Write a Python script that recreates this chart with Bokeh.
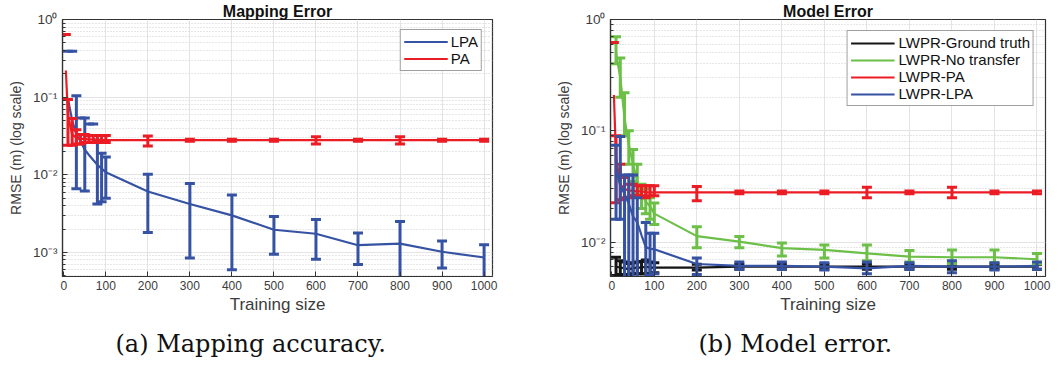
import numpy as np
from bokeh.plotting import figure
from bokeh.layouts import row
from bokeh.models import Range1d, FixedTicker, Legend, LegendItem, Title, ColumnDataSource
from bokeh.embed import file_html
from bokeh.resources import INLINE

nan = float("nan")

# ---------------- data ----------------
x_ticks = [0, 100, 200, 300, 400, 500, 600, 700, 800, 900, 1000]
y_ticks_a = [0.001, 0.01, 0.1, 1.0]
y_ticks_b = [0.01, 0.1, 1.0]
y_tick_labels = {1.0: "10⁰", 0.1: "10⁻¹", 0.01: "10⁻²", 0.001: "10⁻³"}

# (a) Mapping error
lpa_x = [10, 20, 30, 40, 50, 60, 70, 80, 90, 100, 200, 300, 400, 500, 600, 700, 800, 900, 1000]
lpa_mean = [0.095, 0.05, 0.033, 0.027, 0.021, 0.018, 0.0155, 0.0135, 0.012, 0.0108,
            0.0061, 0.0042, 0.0030, 0.00196, 0.00174, 0.00124, 0.0013, 0.00102, 0.00086]
lpa_upper = [0.39, 0.39, 0.104, 0.054, 0.054, 0.045, 0.045, 0.028, 0.019, 0.017,
             0.0102, 0.0077, 0.0055, 0.0029, 0.00265, 0.00178, 0.0025, 0.0014, 0.00126]
lpa_lower = [nan, nan, 0.0066, nan, 0.0062, nan, nan, 0.0042, 0.0045, 0.005,
             0.0018, 0.00085, 0.0006, 0.00095, 0.00082, 0.0007, 0.0004, 0.00063, 0.00045]

pa_x = [5, 10, 20, 30, 40, 50, 60, 70, 80, 90, 100, 200, 300, 400, 500, 600, 700, 800, 900, 1000]
pa_mean = [0.22, 0.058, 0.033, 0.030, 0.029, 0.029, 0.0285, 0.0285, 0.028, 0.028, 0.028,
           0.0280, 0.0279, 0.0279, 0.0279, 0.0279, 0.0279, 0.0279, 0.0279, 0.0279]
pa_upper = [0.64, 0.093, 0.053, 0.038, 0.033, 0.033, 0.032, 0.032, 0.032, 0.032, 0.032,
            0.0315, 0.0287, 0.0287, 0.0287, 0.031, 0.0287, 0.031, 0.0287, 0.0287]
pa_lower = [nan, 0.024, 0.024, 0.025, 0.025, 0.026, 0.026, 0.026, 0.026, 0.026, 0.026,
            0.0235, 0.0271, 0.0271, 0.0271, 0.025, 0.0271, 0.025, 0.0271, 0.0271]

# (b) Model error
gt_x = [10, 20, 30, 40, 50, 60, 70, 80, 90, 100, 200, 300, 400, 500, 600, 700, 800, 900, 1000]
gt_mean = [0.0060, 0.0059, 0.0058, 0.0057, 0.0058, 0.0059, 0.0059, 0.0060, 0.0059, 0.0059,
           0.0059, 0.0060, 0.0060, 0.0060, 0.0060, 0.0060, 0.0060, 0.0060, 0.0060]
gt_upper = [0.0073, 0.0068, 0.0066, 0.0064, 0.0065, 0.0066, 0.0067, 0.0069, 0.0066, 0.0065,
            0.0063, 0.0063, 0.0063, 0.0063, 0.0063, 0.0063, 0.0063, 0.0063, 0.0063]
gt_lower = [0.0050, 0.0051, 0.0051, 0.0051, 0.0052, 0.0052, 0.0052, 0.0052, 0.0052, 0.0053,
            0.0056, 0.0057, 0.0057, 0.0057, 0.0057, 0.0057, 0.0057, 0.0057, 0.0057]

nt_x = [10, 20, 30, 40, 50, 60, 70, 80, 90, 100, 200, 300, 400, 500, 600, 700, 800, 900, 1000]
nt_mean = [0.50, 0.30, 0.13, 0.075, 0.05, 0.035, 0.027, 0.023, 0.021, 0.018,
           0.0113, 0.0101, 0.0088, 0.0085, 0.0079, 0.0074, 0.0073, 0.0073, 0.0070]
nt_upper = [0.70, 0.45, 0.22, 0.10, 0.068, 0.05, 0.033, 0.030, 0.025, 0.0224,
            0.0137, 0.0112, 0.0098, 0.0094, 0.0094, 0.0084, 0.0085, 0.0085, 0.0079]
nt_lower = [0.40, 0.20, 0.09, 0.05, 0.035, 0.027, 0.020, 0.018, 0.016, 0.0144,
            0.0089, 0.0089, 0.0075, 0.0072, 0.0068, 0.0066, 0.0064, 0.0065, 0.0064]

lp_x = [5, 10, 20, 30, 40, 50, 60, 70, 80, 90, 100, 200, 300, 400, 500, 600, 700, 800, 900, 1000]
lp_mean = [0.21, 0.058, 0.033, 0.030, 0.029, 0.029, 0.0285, 0.0285, 0.028, 0.028, 0.028,
           0.0280, 0.0279, 0.0279, 0.0279, 0.0279, 0.0279, 0.0279, 0.0279, 0.0279]
lp_upper = [0.62, 0.09, 0.05, 0.038, 0.033, 0.033, 0.032, 0.032, 0.032, 0.032, 0.032,
            0.0315, 0.0287, 0.0287, 0.0287, 0.031, 0.0287, 0.031, 0.0287, 0.0287]
lp_lower = [nan, 0.0226, 0.024, 0.025, 0.025, 0.026, 0.026, 0.026, 0.025, 0.026, 0.026,
            0.0235, 0.0271, 0.0271, 0.0271, 0.025, 0.0271, 0.025, 0.0271, 0.0271]

ll_x = [10, 20, 30, 40, 50, 60, 70, 80, 90, 100, 200, 300, 400, 500, 600, 700, 800, 900, 1000]
ll_mean = [0.045, 0.032, 0.027, 0.022, 0.017, 0.015, 0.0115, 0.009, 0.0087, 0.0086,
           0.00635, 0.0061, 0.0061, 0.0060, 0.0058, 0.0061, 0.0060, 0.0060, 0.0061]
ll_upper = [0.074, 0.089, 0.040, 0.040, 0.040, 0.025, nan, 0.015, 0.012, 0.012,
            0.0072, 0.0066, 0.0066, 0.0065, 0.0066, 0.0065, 0.0068, 0.0065, 0.0066]
ll_lower = [0.016, 0.016, 0.0048, 0.0045, 0.0048, 0.0048, nan, 0.0048, 0.005, 0.0052,
            0.0051, 0.0057, 0.0057, 0.0056, 0.0052, 0.0057, 0.0053, 0.0056, 0.0057]

BLUE = "#3653a3"
RED = "#ec1c24"
GREEN = "#6cbf47"
BLACK = "#151515"
SANS = "Liberation Sans"
TXT = "#3c3c3c"


def draw_series(p, x, mean, upper, lower, color, cap=10, lw=2.2, bw=3):
    src = ColumnDataSource(dict(x=np.array(x, float), m=np.array(mean, float),
                                u=np.array(upper, float), l=np.array(lower, float)))
    r = p.line("x", "m", source=src, line_color=color, line_width=lw)
    p.segment(x0="x", y0="l", x1="x", y1="u", source=src, line_color=color, line_width=bw)
    p.scatter("x", "u", source=src, marker="dash", size=cap, line_color=color, line_width=bw)
    p.scatter("x", "l", source=src, marker="dash", size=cap, line_color=color, line_width=bw)
    return r


def make_fig(width, left, right, top, ymin, yticks, title, caption, cap_offset):
    p = figure(width=width, height=368, y_axis_type="log",
               x_range=Range1d(-3, 1020), y_range=Range1d(ymin, 1.0),
               output_backend="svg", toolbar_location=None,
               min_border_left=left, min_border_right=right, min_border_top=top,
               min_border_bottom=92)
    p.title.text = title
    p.title.align = "center"
    p.title.text_font = SANS
    p.title.text_font_size = "16px"
    p.title.text_font_style = "bold"
    p.title.text_color = "#111111"
    p.title.standoff = 0

    p.outline_line_color = "#333333"
    p.outline_line_width = 1.2
    p.background_fill_color = "white"
    p.border_fill_color = "white"

    p.xaxis.ticker = FixedTicker(ticks=x_ticks, minor_ticks=[])
    minors = []
    for d in yticks[:-1]:
        minors += [d * k for k in range(2, 10)]
    minors += [yticks[0] / 10 * k for k in range(2, 10) if yticks[0] / 10 * k >= ymin]
    p.yaxis.ticker = FixedTicker(ticks=yticks, minor_ticks=sorted(minors))
    p.yaxis.major_label_overrides = {t: y_tick_labels[t] for t in yticks}

    for ax in (p.xaxis, p.yaxis):
        ax.axis_line_color = "#333333"
        ax.axis_line_width = 1.2
        ax.major_tick_in = 5
        ax.major_tick_out = 0
        ax.major_tick_line_color = "#333333"
        ax.minor_tick_in = 3
        ax.minor_tick_out = 0
        ax.minor_tick_line_color = "#333333"
        ax.major_label_text_font = SANS
        ax.major_label_text_font_size = "12px"
        ax.major_label_text_color = TXT
        ax.axis_label_text_font = SANS
        ax.axis_label_text_font_style = "normal"
        ax.axis_label_text_color = TXT

    p.yaxis.major_label_text_font_size = "13.5px"
    p.xaxis.axis_label = "Training size"
    p.xaxis.axis_label_text_font_size = "17px"
    p.xaxis.major_label_standoff = 4
    p.xaxis.axis_label_standoff = 2
    p.yaxis.axis_label = "RMSE (m) (log scale)"
    p.yaxis.axis_label_text_font_size = "14px"
    p.yaxis.major_label_standoff = 5
    p.yaxis.axis_label_standoff = 6

    p.xgrid.grid_line_color = "#e4e4e4"
    p.ygrid.grid_line_color = "#e4e4e4"
    p.ygrid.minor_grid_line_color = "#cfcfcf"
    p.ygrid.minor_grid_line_dash = "1 2"

    p.add_layout(Title(text=caption, align="left", offset=cap_offset,
                       text_font="DejaVu Serif", text_font_size="24px",
                       text_font_style="normal", text_color="#111111", standoff=22), "below")
    return p


p1 = make_fig(530, 62, 38, 17, 4.9e-4, y_ticks_a, "Mapping Error", "(a) Mapping accuracy.", 53)
r_lpa = draw_series(p1, lpa_x, lpa_mean, lpa_upper, lpa_lower, BLUE)
r_pa = draw_series(p1, pa_x, pa_mean, pa_upper, pa_lower, RED)
leg1 = Legend(items=[LegendItem(label="LPA", renderers=[r_lpa]),
                     LegendItem(label="PA", renderers=[r_pa])],
              location="top_right", margin=10, padding=3, spacing=0,
              glyph_width=44, glyph_height=15, label_height=15, label_standoff=3,
              label_text_font=SANS, label_text_font_size="15px", label_text_color="#111111",
              border_line_color="#404040", border_line_width=1)
p1.add_layout(leg1)

p2 = make_fig(528, 80, 13, 15, 4.9e-3, y_ticks_b, "Model Error", "(b) Model error.", 88)
r_gt = draw_series(p2, gt_x, gt_mean, gt_upper, gt_lower, BLACK)
r_nt = draw_series(p2, nt_x, nt_mean, nt_upper, nt_lower, GREEN)
r_lp = draw_series(p2, lp_x, lp_mean, lp_upper, lp_lower, RED)
r_ll = draw_series(p2, ll_x, ll_mean, ll_upper, ll_lower, BLUE)
leg2 = Legend(items=[LegendItem(label="LWPR-Ground truth", renderers=[r_gt]),
                     LegendItem(label="LWPR-No transfer", renderers=[r_nt]),
                     LegendItem(label="LWPR-PA", renderers=[r_lp]),
                     LegendItem(label="LWPR-LPA", renderers=[r_ll])],
              location="top_right", margin=11, padding=3, spacing=0,
              glyph_width=44, glyph_height=16, label_height=16, label_standoff=4,
              label_text_font=SANS, label_text_font_size="15px", label_text_color="#111111",
              border_line_color="#404040", border_line_width=1)
p2.add_layout(leg2)

layout = row(p1, p2)
open("out.html", "w").write(file_html(layout, INLINE))
